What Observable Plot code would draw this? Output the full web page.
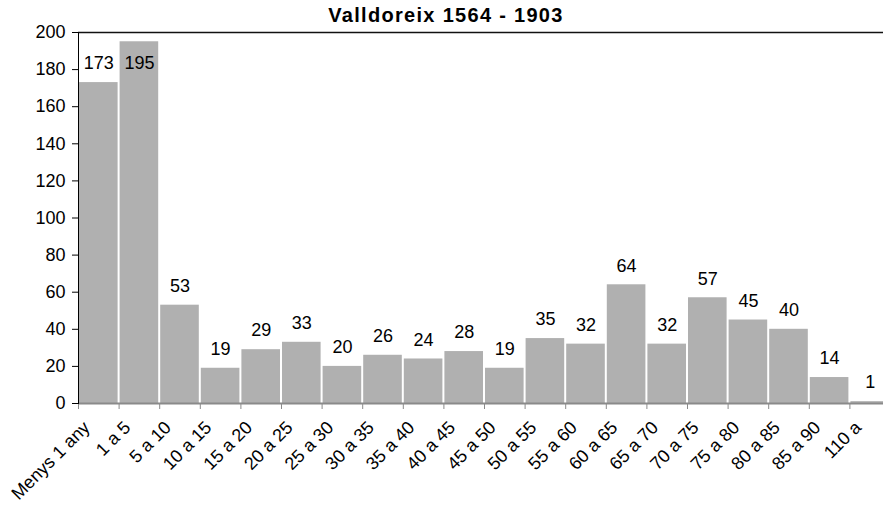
<!DOCTYPE html>
<html><head><meta charset="utf-8">
<script src="https://cdn.jsdelivr.net/npm/d3@7"></script>
<script src="https://cdn.jsdelivr.net/npm/@observablehq/plot@0.6"></script>
<style>body{margin:0;background:#fff;font-family:"Liberation Sans",Arial,sans-serif}</style>
</head><body><div id="chart"></div>
<script>
const title = ["Valldoreix 1564 - 1903"];
const categories = ["Menys 1 any","1 a 5","5 a 10","10 a 15","15 a 20","20 a 25","25 a 30","30 a 35","35 a 40","40 a 45","45 a 50","50 a 55","55 a 60","60 a 65","65 a 70","70 a 75","75 a 80","80 a 85","85 a 90","110 a"];
const values = [173,195,53,19,29,33,20,26,24,28,19,35,32,64,32,57,45,40,14,1];
const yTicks = [0,20,40,60,80,100,120,140,160,180,200];

const data = categories.map((c,i)=>({cat:c, v:values[i]}));
const x0 = 78, x1 = 890;
const bw = (x1-x0)/categories.length;
const yTop = 32, yBot = 403;
const pxToY = 200/(yBot-yTop);

const chart = Plot.plot({
  width: 883, height: 505,
  marginLeft: 78, marginRight: 0, marginTop: yTop, marginBottom: 505-yBot,
  style: {fontFamily: '"Liberation Sans", Arial, sans-serif', fontSize: "18px", color: "#000", background: "#fff"},
  x: {domain: categories, range: [x0, x1], padding: 0, round: false},
  y: {domain: [0,200], ticks: yTicks, label: null},
  marks: [
    Plot.barY(data, {x:"cat", y:"v", fill:"#b0b0b0", insetLeft:1, insetRight:1}),
    Plot.ruleY([0], {stroke:"#8a8a8a", strokeWidth:2}),
    Plot.ruleX(categories, {x: d=>d, y1: 0, y2: -6*pxToY, dx: -bw/2, stroke:"#8a8a8a", clip:false}),
    Plot.ruleY([200], {stroke:"#111", strokeWidth:1.6}),
    Plot.frame({anchor:"left", stroke:"#000"}),
    Plot.axisY({ticks: yTicks, tickSize: 6, tickPadding: 7, fontSize: 18, stroke:"#000", label: null}),
    Plot.axisX({tickSize: 0, tickRotate: -45, tickPadding: 12, fontSize: 18, label: null, dx: -12, dy: 9}),
    Plot.text(data, {x:"cat", y: d=>Math.min(d.v, 173), text: d=>String(d.v), dy:-19, fontSize:18, fill:"#000"}),
    Plot.text(title, {frameAnchor:"top", dy:-11, lineAnchor:"bottom", fontWeight:"bold", fontSize:20, fill:"#000", dx: -35})
  ]
});
chart.querySelectorAll("text").forEach(t => { if (t.textContent === title[0]) t.style.letterSpacing = "1.3px"; });
document.getElementById("chart").appendChild(chart);
</script></body></html>
